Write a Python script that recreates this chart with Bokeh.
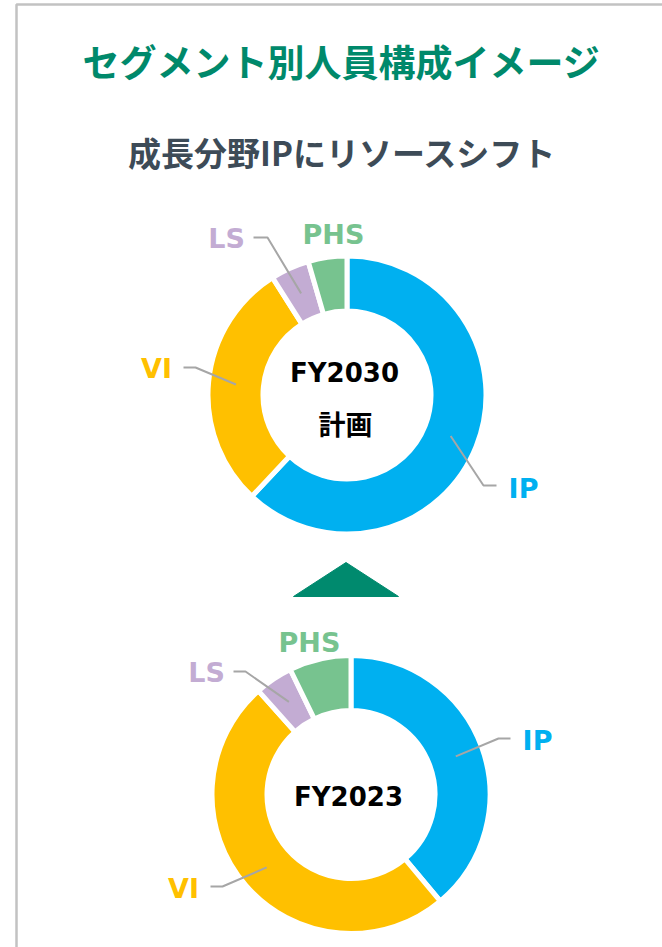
import math
from bokeh.plotting import figure
from bokeh.models import BoxAnnotation
from bokeh.core.properties import value
from bokeh.embed import file_html
from bokeh.resources import INLINE

# ---------------- data ----------------
segments = ["IP", "VI", "LS", "PHS"]
share_fy2030 = [62.0, 29.0, 4.5, 4.5]
share_fy2023 = [38.9, 49.5, 4.4, 7.2]
seg_colors = ["#00B0F0", "#FFC000", "#C3ACD3", "#77C38F"]

title_text = "セグメント別人員構成イメージ"
subtitle_text = "成長分野IPにリソースシフト"
center_2030 = ["FY2030", "計画"]
center_2023 = ["FY2023"]

# ---------------- layout (pixel coords, y down) ----------------
W, H = 662, 947
R_OUT, R_IN = 139.0, 84.0
GAP = 5

def Y(py):
    return H - py

p = figure(width=W, height=H, x_range=(0, W), y_range=(0, H),
           output_backend="svg", toolbar_location=None,
           x_axis_type=None, y_axis_type=None,
           min_border=0, min_border_left=0, min_border_right=0,
           min_border_top=0, min_border_bottom=0)
p.outline_line_color = None
p.xgrid.visible = False
p.ygrid.visible = False
p.background_fill_color = "white"
p.border_fill_color = "white"

# frame border (light gray, top + left)
p.add_layout(BoxAnnotation(left=16, right=W + 50, top=Y(4), bottom=-50,
                           fill_alpha=0, line_color="#C2C2C2", line_alpha=1.0,
                           line_width=2.5))

JP = value("Noto Sans CJK JP")
LAT = value("DejaVu Sans")

p.text(x=[341], y=[Y(60)], text=[title_text], text_font=JP, text_font_style="bold",
       text_font_size="37px", text_color="#00896B", text_align="center",
       text_baseline="middle")
p.text(x=[342], y=[Y(151)], text=[subtitle_text], text_font=JP, text_font_style="bold",
       text_font_size="33px", text_color="#3D4B57", text_align="center",
       text_baseline="middle")


def donut(cx, cy, shares, labels_layout):
    total = float(sum(shares))
    cum = 0.0
    starts, ends, mids = [], [], []
    for s in shares:
        a = cum / total
        cum += s
        b = cum / total
        starts.append(math.pi / 2 - 2 * math.pi * a)
        ends.append(math.pi / 2 - 2 * math.pi * b)
        mids.append(math.pi / 2 - 2 * math.pi * (a + b) / 2)
    n = len(shares)
    p.annular_wedge(x=[cx] * n, y=[Y(cy)] * n, inner_radius=R_IN, outer_radius=R_OUT,
                    start_angle=starts, end_angle=ends, direction="clock",
                    fill_color=seg_colors, line_color="white", line_width=GAP)
    rm = (R_IN + R_OUT) / 2
    xs, ys = [], []
    lx, ly, lt, lc = [], [], [], []
    for i, seg in enumerate(segments):
        lab, elbow, end = labels_layout[seg]
        lx.append(lab[0]); ly.append(Y(lab[1])); lt.append(seg); lc.append(seg_colors[i])
        if elbow is not None:
            sx = cx + rm * math.cos(mids[i])
            sy = Y(cy) + rm * math.sin(mids[i])
            xs.append([sx, elbow[0], end[0]])
            ys.append([sy, Y(elbow[1]), Y(end[1])])
    p.multi_line(xs=xs, ys=ys, line_color="#A6A6A6", line_width=2)
    p.text(x=lx, y=ly, text=lt, text_color=lc, text_font=LAT, text_font_style="bold",
           text_font_size="27px", text_align="center", text_baseline="middle")


layout_2030 = {
    "IP": ((523, 488), (483, 485), (496, 485)),
    "VI": ((156, 368), (195, 367), (183, 367)),
    "LS": ((226, 238), (267, 237), (253, 237)),
    "PHS": ((333, 234), None, None),
}
layout_2023 = {
    "IP": ((537, 740), (498, 738), (510, 738)),
    "VI": ((183, 888), (222, 886), (210, 886)),
    "LS": ((206, 672), (245, 671), (233, 671)),
    "PHS": ((309, 642), None, None),
}

donut(346.5, 394.5, share_fy2030, layout_2030)
donut(350.5, 794.0, share_fy2023, layout_2023)

# center texts
p.text(x=[344], y=[Y(372)], text=[center_2030[0]], text_font=LAT, text_font_style="bold",
       text_font_size="26px", text_color="black", text_align="center", text_baseline="middle")
p.text(x=[345], y=[Y(423)], text=[center_2030[1]], text_font=JP, text_font_style="bold",
       text_font_size="27px", text_color="black", text_align="center", text_baseline="middle")
p.text(x=[348], y=[Y(796)], text=[center_2023[0]], text_font=LAT, text_font_style="bold",
       text_font_size="26px", text_color="black", text_align="center", text_baseline="middle")

# arrow triangle between the donuts
tx, ty_apex, ty_base, tw = 345.5, 562, 596, 105
p.patch(x=[tx - tw / 2, tx, tx + tw / 2], y=[Y(ty_base), Y(ty_apex), Y(ty_base)],
        fill_color="#008A6E", line_color="#008A6E", line_width=1)

open("out.html", "w").write(file_html(p, INLINE))
